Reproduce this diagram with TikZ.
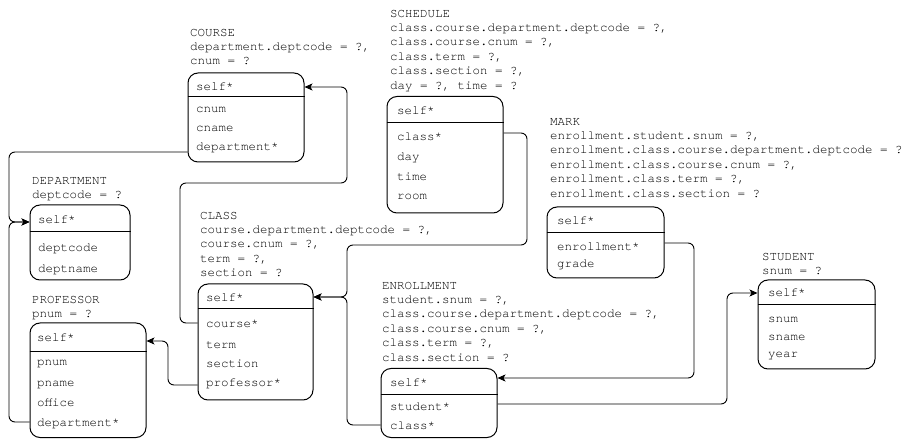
\documentclass[tikz,border=0pt]{standalone}
\usepackage{fontspec}
\setmonofont{TeX Gyre Cursor}
\usetikzlibrary{arrows.meta,fit}
\newcommand\lblfont{\ttfamily\fontsize{12.5bp}{14.4bp}\selectfont}
\tikzset{
  ent/.style={draw, line width=1bp, rounded corners=10bp, inner sep=0pt},
  hdr/.style={line width=1bp},
  fld/.style={font=\lblfont, anchor=west, inner sep=0pt, text height=8.5bp, text depth=1.5bp},
  lbl/.style={font=\lblfont, align=left, anchor=north west, inner sep=0pt},
  conn/.style={line width=0.9bp, rounded corners=6bp, -{Stealth[length=8bp,width=7bp,inset=2bp]}},
}
\newcommand\tstrut{\rule{0pt}{10bp}}
\begin{document}
\begin{tikzpicture}[x=1bp,y=-1bp]
\useasboundingbox (0,0) rectangle (909,439);

% ---------- COURSE ----------
\node[lbl] (course-l) at (190,26) {\tstrut COURSE\\department.deptcode = ?,\\cnum = ?};
\node[ent, fit={(188,73) (304,162)}] (course) {};
\draw[hdr] (course.west |- 0,97) -- (course.east |- 0,97);
\node[fld] (course-f0) at (196,87) {self*};
\node[fld] (course-f1) at (196,109) {cnum};
\node[fld] (course-f2) at (196,128) {cname};
\node[fld] (course-f3) at (196,147) {department*};

% ---------- DEPARTMENT ----------
\node[lbl] (dept-l) at (32,174) {\tstrut DEPARTMENT\\deptcode = ?};
\node[ent, fit={(30,205) (130,280)}] (dept) {};
\draw[hdr] (dept.west |- 0,232) -- (dept.east |- 0,232);
\node[fld] (dept-f0) at (38,220) {self*};
\node[fld] (dept-f1) at (38,248) {deptcode};
\node[fld] (dept-f2) at (38,269) {deptname};

% ---------- PROFESSOR ----------
\node[lbl] (prof-l) at (32,293) {\tstrut PROFESSOR\\pnum = ?};
\node[ent, fit={(30,323) (146,437.5)}] (prof) {};
\draw[hdr] (prof.west |- 0,352) -- (prof.east |- 0,352);
\node[fld] (prof-f0) at (37,338) {self*};
\node[fld] (prof-f1) at (37,362) {pnum};
\node[fld] (prof-f2) at (37,383) {pname};
\node[fld] (prof-f3) at (37,403) {office};
\node[fld] (prof-f4) at (37,423) {department*};

% ---------- CLASS ----------
\node[lbl] (class-l) at (200,209) {\tstrut CLASS\\course.department.deptcode = ?,\\course.cnum = ?,\\term = ?,\\section = ?};
\node[ent, fit={(198,284) (313,400)}] (class) {};
\draw[hdr] (class.west |- 0,309) -- (class.east |- 0,309);
\node[fld] (class-f0) at (206,298) {self*};
\node[fld] (class-f1) at (206,324) {course*};
\node[fld] (class-f2) at (206,345) {term};
\node[fld] (class-f3) at (206,364) {section};
\node[fld] (class-f4) at (206,383) {professor*};

% ---------- SCHEDULE ----------
\node[lbl] (sched-l) at (390,7) {\tstrut SCHEDULE\\class.course.department.deptcode = ?,\\class.course.cnum = ?,\\class.term = ?,\\class.section = ?,\\day = ?, time = ?};
\node[ent, fit={(387,96.5) (503,213)}] (sched) {};
\draw[hdr] (sched.west |- 0,123) -- (sched.east |- 0,123);
\node[fld] (sched-f0) at (397,111) {self*};
\node[fld] (sched-f1) at (397,137) {class*};
\node[fld] (sched-f2) at (397,157) {day};
\node[fld] (sched-f3) at (397,177) {time};
\node[fld] (sched-f4) at (397,196) {room};

% ---------- MARK ----------
\node[lbl] (mark-l) at (550,115) {\tstrut MARK\\enrollment.student.snum = ?,\\enrollment.class.course.department.deptcode = ?\\enrollment.class.course.cnum = ?,\\enrollment.class.term = ?,\\enrollment.class.section = ?};
\node[ent, fit={(547,207) (664,278)}] (mark) {};
\draw[hdr] (mark.west |- 0,233) -- (mark.east |- 0,233);
\node[fld] (mark-f0) at (557,221) {self*};
\node[fld] (mark-f1) at (557,247) {enrollment*};
\node[fld] (mark-f2) at (557,264) {grade};

% ---------- ENROLLMENT ----------
\node[lbl] (enr-l) at (382,279) {\tstrut ENROLLMENT\\student.snum = ?,\\class.course.department.deptcode = ?,\\class.course.cnum = ?,\\class.term = ?,\\class.section = ?};
\node[ent, fit={(381,368.5) (497,437.5)}] (enr) {};
\draw[hdr] (enr.west |- 0,395) -- (enr.east |- 0,395);
\node[fld] (enr-f0) at (390,383) {self*};
\node[fld] (enr-f1) at (390,407) {student*};
\node[fld] (enr-f2) at (390,426) {class*};

% ---------- STUDENT ----------
\node[lbl] (stud-l) at (762,250) {\tstrut STUDENT\\snum = ?};
\node[ent, fit={(758,280) (875,369)}] (stud) {};
\draw[hdr] (stud.west |- 0,305) -- (stud.east |- 0,305);
\node[fld] (stud-f0) at (768,293) {self*};
\node[fld] (stud-f1) at (768,319) {snum};
\node[fld] (stud-f2) at (768,337) {sname};
\node[fld] (stud-f3) at (768,354) {year};

% ---------- connectors ----------
\draw[conn] (course.west |- 0,152) -- (9,152) -- (9,222) -- (dept.west |- 0,222);
\draw[conn] (prof.west |- 0,422) -- (9,422) -- (9,222) -- (dept.west |- 0,222);
\draw[conn] (class.west |- 0,323) -- (180,323) -- (180,183) -- (347,183) -- (347,87) -- (course.east |- 0,87);
\draw[conn] (class.west |- 0,385) -- (168,385) -- (168,341) -- (prof.east |- 0,341);
\draw[conn] (sched.east |- 0,133) -- (527,133) -- (527,245) -- (347,245) -- (347,297) -- (class.east |- 0,297);
\draw[conn] (enr.west |- 0,425) -- (347,425) -- (347,297) -- (class.east |- 0,297);
\draw[conn] (mark.east |- 0,243) -- (694,243) -- (694,378) -- (enr.east |- 0,378);
\draw[conn] (enr.east |- 0,404) -- (727,404) -- (727,293) -- (stud.west |- 0,293);
\end{tikzpicture}
\end{document}
